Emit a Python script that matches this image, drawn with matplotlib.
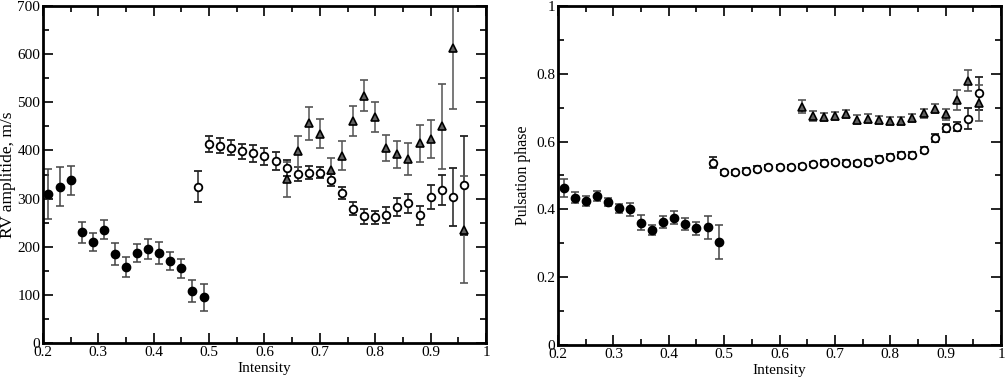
import matplotlib
matplotlib.use("Agg")
import matplotlib.pyplot as plt
from matplotlib.ticker import MultipleLocator, FuncFormatter

plt.rcParams['font.family'] = ['Liberation Serif', 'DejaVu Serif']
plt.rcParams['font.size'] = 11

# --- RV amplitude (left panel) ---
x_fill = [0.21, 0.23, 0.25, 0.27, 0.29, 0.31, 0.33, 0.35, 0.37, 0.39, 0.41, 0.43, 0.45, 0.47, 0.49]
rv_fill = [310, 325, 338, 230, 210, 235, 185, 158, 187, 196, 187, 170, 155, 108, 95]
rv_fill_err = [52, 41, 30, 22, 18, 20, 23, 20, 19, 21, 23, 19, 20, 22, 28]

x_open = [0.48, 0.50, 0.52, 0.54, 0.56, 0.58, 0.60, 0.62, 0.64, 0.66, 0.68, 0.70, 0.72,
          0.74, 0.76, 0.78, 0.80, 0.82, 0.84, 0.86, 0.88, 0.90, 0.92, 0.94, 0.96]
rv_open = [325, 414, 410, 406, 398, 394, 388, 378, 364, 351, 354, 354, 339,
           312, 279, 263, 261, 266, 282, 290, 265, 304, 318, 304, 328]
rv_open_err = [33, 17, 16, 15, 16, 17, 18, 18, 17, 14, 14, 12, 12,
               13, 13, 15, 14, 16, 19, 19, 20, 25, 32, 60, 103]

x_tri = [0.64, 0.66, 0.68, 0.70, 0.72, 0.74, 0.76, 0.78, 0.80, 0.82, 0.84, 0.86, 0.88,
         0.90, 0.92, 0.94, 0.96]
rv_tri = [340, 398, 456, 435, 360, 389, 462, 514, 470, 405, 392, 383, 415, 424, 450, 612, 235]
rv_tri_err = [36, 33, 34, 30, 25, 30, 31, 33, 31, 27, 28, 33, 38, 40, 88, 126, 111]

# --- pulsation phase (right panel) ---
ph_fill = [0.464, 0.435, 0.425, 0.440, 0.422, 0.403, 0.400, 0.360, 0.339, 0.362, 0.376,
           0.357, 0.344, 0.347, 0.305]
ph_fill_err = [0.026, 0.017, 0.014, 0.015, 0.013, 0.014, 0.020, 0.022, 0.016, 0.018, 0.019,
               0.018, 0.020, 0.034, 0.050]

ph_open = [0.538, 0.509, 0.509, 0.514, 0.520, 0.525, 0.525, 0.525, 0.528, 0.534, 0.538,
           0.540, 0.538, 0.536, 0.540, 0.550, 0.556, 0.561, 0.561, 0.575, 0.610, 0.639,
           0.644, 0.668, 0.742]
ph_open_err = [0.016, 0.007, 0.007, 0.007, 0.007, 0.007, 0.007, 0.007, 0.007, 0.007, 0.007,
               0.007, 0.007, 0.007, 0.008, 0.008, 0.008, 0.008, 0.009, 0.010, 0.012, 0.012,
               0.014, 0.032, 0.050]

ph_tri = [0.703, 0.676, 0.672, 0.676, 0.681, 0.664, 0.668, 0.664, 0.660, 0.662, 0.670,
          0.683, 0.697, 0.681, 0.723, 0.780, 0.713]
ph_tri_err = [0.020, 0.014, 0.012, 0.012, 0.012, 0.013, 0.012, 0.012, 0.012, 0.012, 0.012,
              0.013, 0.014, 0.016, 0.030, 0.031, 0.053]


def draw(ax, yf, ef, yo, eo, yt, et):
    kw = dict(linestyle='none', capsize=3.2, elinewidth=1.1, capthick=1.1)
    ax.errorbar(x_fill, yf, yerr=ef, fmt='o', ms=6, mfc='black', mec='black',
                ecolor='#444444', **kw)
    ax.errorbar(x_open, yo, yerr=eo, fmt='o', ms=5.5, mfc='white', mec='black', mew=1.3,
                ecolor='#222222', **kw)
    ax.errorbar(x_tri, yt, yerr=et, fmt='^', ms=6, mfc='#606060', mec='black', mew=1.2,
                ecolor='#555555', **kw)
    ax.set_xlim(0.2, 1.0)
    ax.xaxis.set_major_locator(MultipleLocator(0.1))
    ax.xaxis.set_minor_locator(MultipleLocator(0.05))
    ax.xaxis.set_major_formatter(FuncFormatter(lambda v, p: '%g' % round(v, 2)))
    ax.tick_params(which='both', direction='in', top=True, right=True, width=1.2)
    ax.tick_params(which='major', length=7, pad=2)
    ax.tick_params(which='minor', length=4)
    for s in ax.spines.values():
        s.set_linewidth(2)
    ax.set_xlabel('Intensity', labelpad=2)


fig = plt.figure(figsize=(10.06, 3.78), dpi=100)
ax1 = fig.add_axes([0.0427, 0.0926, 0.4404, 0.8915])
ax2 = fig.add_axes([0.5547, 0.0874, 0.4404, 0.8967])

draw(ax1, rv_fill, rv_fill_err, rv_open, rv_open_err, rv_tri, rv_tri_err)
ax1.set_ylim(0, 700)
ax1.yaxis.set_major_locator(MultipleLocator(100))
ax1.yaxis.set_minor_locator(MultipleLocator(50))
ax1.set_ylabel('RV amplitide, m/s', fontsize=12.5, labelpad=1)

draw(ax2, ph_fill, ph_fill_err, ph_open, ph_open_err, ph_tri, ph_tri_err)
ax2.set_ylim(0, 1)
ax2.yaxis.set_major_locator(MultipleLocator(0.2))
ax2.yaxis.set_minor_locator(MultipleLocator(0.1))
ax2.yaxis.set_major_formatter(FuncFormatter(lambda v, p: '%g' % round(v, 2)))
ax2.set_ylabel('Pulsation phase', fontsize=11.5, labelpad=4)

fig.savefig('out.png', dpi=100)
